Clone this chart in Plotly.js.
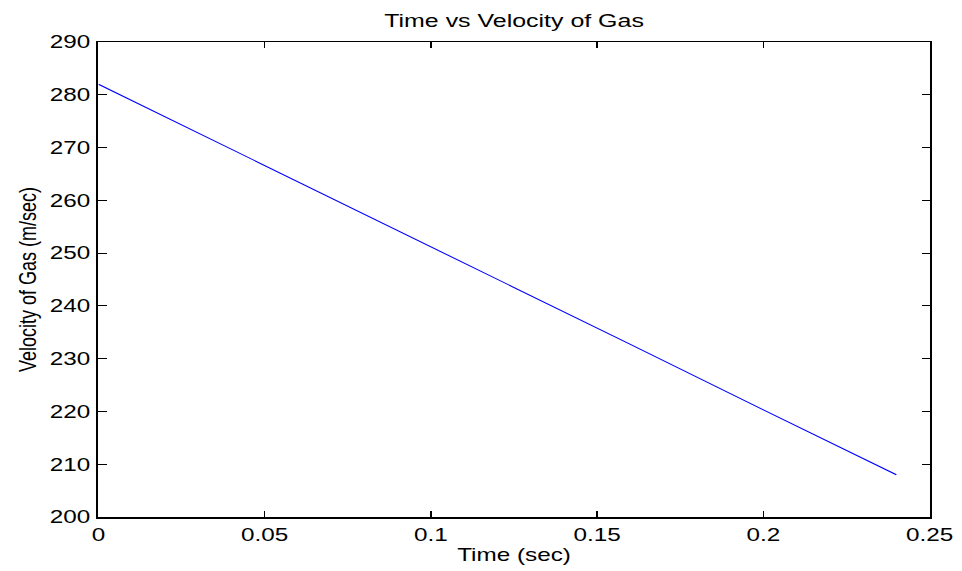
<!DOCTYPE html>
<html>
<head>
<meta charset="utf-8">
<script src="https://cdn.plot.ly/plotly-3.0.1.min.js"></script>
<style>
html, body { margin: 0; padding: 0; background: #ffffff; overflow: hidden; width: 962px; height: 571px; }
#wrap { width: 713px; height: 571px; transform: scaleX(1.3492); transform-origin: 0 0; }
</style>
</head>
<body>
<div id="wrap"><div id="chart" style="width:713px;height:571px;"></div></div>
<script>
// Data
const timeSec = [0, 0.04, 0.08, 0.12, 0.16, 0.20, 0.24];
const velocityGas = [282.0, 269.7, 257.3, 245.0, 232.7, 220.3, 208.0];

const chartTitle = "Time vs Velocity of Gas";
const xTitle = "Time (sec)";
const yTitle = "Velocity of Gas (m/sec)";

const fontFamily = "Liberation Sans, Arial, Helvetica, sans-serif";

const trace = {
  x: timeSec,
  y: velocityGas,
  type: "scatter",
  mode: "lines",
  line: { color: "#0000ff", width: 1 },
  hoverinfo: "skip"
};

const axisCommon = {
  showgrid: false,
  zeroline: false,
  showline: true,
  linecolor: "#000000",
  linewidth: 1.5,
  mirror: "ticks",
  ticks: "inside",
  ticklen: 6,
  tickwidth: 1,
  tickcolor: "#000000",
  tickfont: { family: fontFamily, size: 18, color: "#000000" }
};

const layout = {
  width: 713,
  height: 571,
  margin: { l: 73.4, r: 24.4, t: 42, b: 54 },
  paper_bgcolor: "#ffffff",
  plot_bgcolor: "#ffffff",
  showlegend: false,
  font: { family: fontFamily, size: 18, color: "#000000" },
  title: {
    text: chartTitle,
    font: { family: fontFamily, size: 18.5, color: "#000000" },
    x: 0.5, xref: "paper", xanchor: "center",
    y: 1 - 21 / 571, yref: "container", yanchor: "middle"
  },
  xaxis: Object.assign({}, axisCommon, {
    range: [0, 0.25],
    tick0: 0,
    dtick: 0.05,
    ticklabelstandoff: 1,
    title: { text: xTitle, font: { family: fontFamily, size: 18, color: "#000000" }, standoff: 4 },
    automargin: false
  }),
  yaxis: Object.assign({}, axisCommon, {
    range: [200, 290],
    tick0: 200,
    dtick: 10,
    ticklabelstandoff: 1,
    title: { text: yTitle, font: { family: fontFamily, size: 18, color: "#000000" } },
    automargin: false
  })
};

Plotly.newPlot("chart", [trace], layout, { displayModeBar: false, staticPlot: true });
</script>
</body>
</html>
